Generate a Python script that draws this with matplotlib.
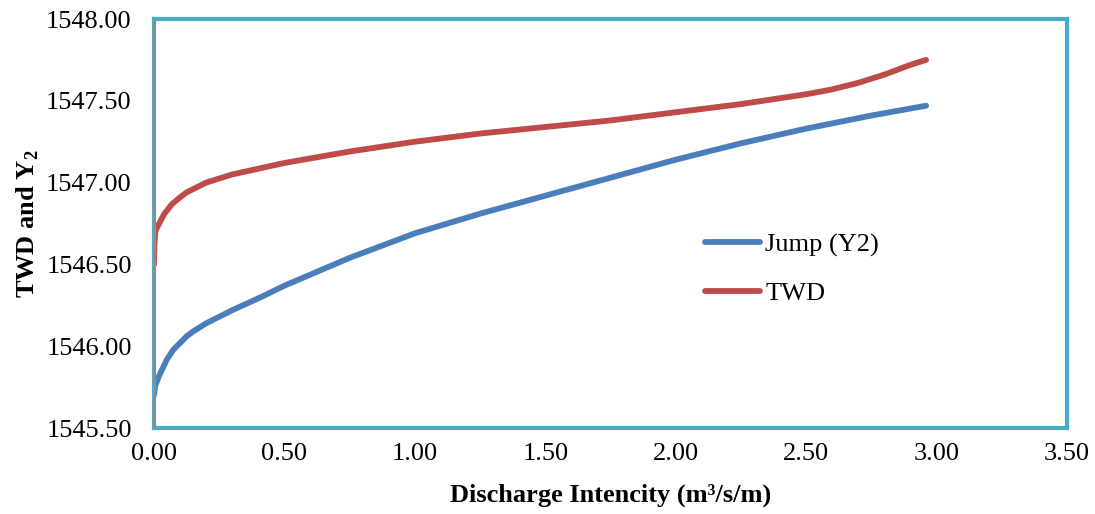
import numpy as np
import matplotlib
matplotlib.use('Agg')
import matplotlib.pyplot as plt

plt.rcParams['font.family'] = ['Liberation Serif', 'DejaVu Serif']
plt.rcParams['mathtext.fontset'] = 'custom'
plt.rcParams['mathtext.rm'] = 'Liberation Serif'
plt.rcParams['mathtext.bf'] = 'Liberation Serif:bold'

# discharge intensity (m3/s/m)
q_jump = [0.0, 0.005, 0.01, 0.02, 0.035, 0.05, 0.075, 0.1, 0.125, 0.15, 0.2, 0.25,
          0.3, 0.41, 0.5, 0.75, 1.0, 1.25, 1.5, 1.75, 2.0, 2.25, 2.5, 2.75, 2.96]
y2_jump = [1545.70, 1545.76, 1545.78, 1545.82, 1545.87, 1545.92, 1545.98, 1546.02,
           1546.06, 1546.09, 1546.14, 1546.18, 1546.22, 1546.30, 1546.37, 1546.54,
           1546.69, 1546.81, 1546.92, 1547.03, 1547.14, 1547.24, 1547.33, 1547.41,
           1547.47]

q_twd = [0.0, 0.002, 0.005, 0.01, 0.02, 0.03, 0.04, 0.055, 0.07, 0.085, 0.1, 0.125,
         0.15, 0.175, 0.2, 0.3, 0.5, 0.75, 1.0, 1.25, 1.5, 1.75, 2.0, 2.25, 2.5,
         2.6, 2.7, 2.8, 2.9, 2.96]
twd = [1546.50, 1546.62, 1546.70, 1546.72, 1546.75, 1546.78, 1546.81, 1546.84,
       1546.87, 1546.89, 1546.91, 1546.94, 1546.96, 1546.98, 1547.00, 1547.05,
       1547.12, 1547.19, 1547.25, 1547.30, 1547.34, 1547.38, 1547.43, 1547.48,
       1547.54, 1547.57, 1547.61, 1547.66, 1547.72, 1547.75]

x_ticks = np.arange(0, 3.51, 0.5)
y_ticks = np.arange(1545.5, 1548.01, 0.5)

fig = plt.figure(figsize=(10.95, 5.14), dpi=100)
ax = fig.add_axes([0.1406, 0.1673, 0.8338, 0.7957])

ax.plot(q_jump, y2_jump, color='#4A7EBB', lw=4.2, solid_capstyle='round',
        solid_joinstyle='round', label='Jump (Y2)')
ax.plot(q_twd, twd, color='#BE4B48', lw=4.2, solid_capstyle='round',
        solid_joinstyle='round', label='TWD')

ax.set_xlim(0, 3.5)
ax.set_ylim(1545.5, 1548.0)
ax.set_xticks(x_ticks)
ax.set_yticks(y_ticks)
ax.set_xticklabels(['%.2f' % v for v in x_ticks])
ax.set_yticklabels(['%.2f' % v for v in y_ticks])
ax.tick_params(length=0, labelsize=19)
ax.tick_params(axis='y', pad=16)
ax.tick_params(axis='x', pad=11)

for s in ax.spines.values():
    s.set_color('#4BACC6')
    s.set_linewidth(3)
ax.axvline(0, color='#868686', lw=1, zorder=3)

ax.set_xlabel('Discharge Intencity (m\u00b3/s/m)', fontsize=19, fontweight='bold', labelpad=13)
ax.set_ylabel('TWD and Y$_\\mathbf{2}$', fontsize=19, fontweight='bold', labelpad=4)

ax.legend(loc='upper left', bbox_to_anchor=(0.577, 0.535), frameon=False, fontsize=19,
          handlelength=2.1, handletextpad=0.2, labelspacing=0.95)

fig.savefig('out.png', dpi=100)
